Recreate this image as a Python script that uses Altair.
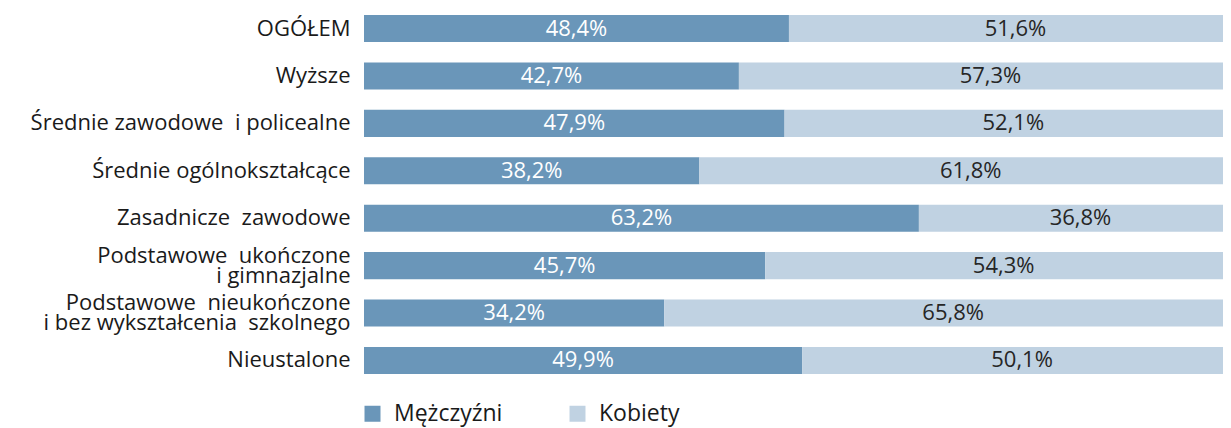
import altair as alt
import pandas as pd

NB = "\u00a0"
categories = [
    "OGÓŁEM",
    "Wyższe",
    "Średnie zawodowe" + NB + " i policealne",
    "Średnie ogólnokształcące",
    "Zasadnicze" + NB + " zawodowe",
    "Podstawowe" + NB + " ukończone|i gimnazjalne",
    "Podstawowe" + NB + " nieukończone|i bez wykształcenia" + NB + " szkolnego",
    "Nieustalone",
]
men = [48.4, 42.7, 47.9, 38.2, 63.2, 45.7, 34.2, 49.9]
women = [51.6, 57.3, 52.1, 61.8, 36.8, 54.3, 65.8, 50.1]
series = ["Mężczyźni", "Kobiety"]
colors = ["#6A96B9", "#C0D2E2"]

rows = []
for i, c in enumerate(categories):
    for s, vals, o in ((series[0], men, 0), (series[1], women, 1)):
        v = vals[i]
        rows.append({"cat": c, "series": s, "value": v, "ord": o,
                     "label": f"{v:.1f}".replace(".", ",") + "%"})
df = pd.DataFrame(rows)

FONT = "Open Sans"

base = alt.Chart(df).transform_stack(
    stack="value", groupby=["cat"], as_=["x0", "x1"],
    sort=[alt.SortField("ord", order="ascending")]
).transform_calculate(mid="(datum.x0 + datum.x1) / 2")

y = alt.Y("cat:N", sort=categories, title=None,
          scale=alt.Scale(paddingInner=0.43, paddingOuter=0.148),
          axis=alt.Axis(labelExpr="split(datum.label, '|')", labelFontSize=22,
                        labelFont=FONT, labelColor="#1a1a1a", labelPadding=14,
                        labelLineHeight=20, ticks=False, domain=False,
                        labelLimit=400, grid=False,
                        labelOffset={"condition": {"test": "indexof(datum.value, '|') >= 0",
                                                   "value": -10}, "value": 0}))

bars = base.mark_bar().encode(
    y=y,
    x=alt.X("x0:Q", scale=alt.Scale(domain=[0, 100], nice=False), axis=None),
    x2="x1:Q",
    color=alt.Color("series:N", sort=series,
                    scale=alt.Scale(domain=series, range=colors),
                    legend=alt.Legend(title=None, orient="none", direction="horizontal",
                                      legendX=-3, legendY=394, symbolType="square",
                                      symbolSize=256, symbolStrokeWidth=0,
                                      labelFontSize=23, labelFont=FONT,
                                      labelColor="#1a1a1a", labelOffset=10,
                                      columnPadding=63)),
)

text = base.mark_text(fontSize=22, font=FONT, baseline="middle", align="center").encode(
    y=alt.Y("cat:N", sort=categories),
    x=alt.X("mid:Q"),
    text="label:N",
    color=alt.condition(alt.datum.ord == 0, alt.value("white"), alt.value("#262626")),
)

chart = alt.layer(bars, text).properties(
    width=878, height=373,
    autosize=alt.AutoSizeParams(type="none"),
    padding={"left": 356, "top": 0, "right": -19, "bottom": 47},
).configure_view(stroke=None)

chart.save("out.html", embed_options={"renderer": "svg", "actions": False})
